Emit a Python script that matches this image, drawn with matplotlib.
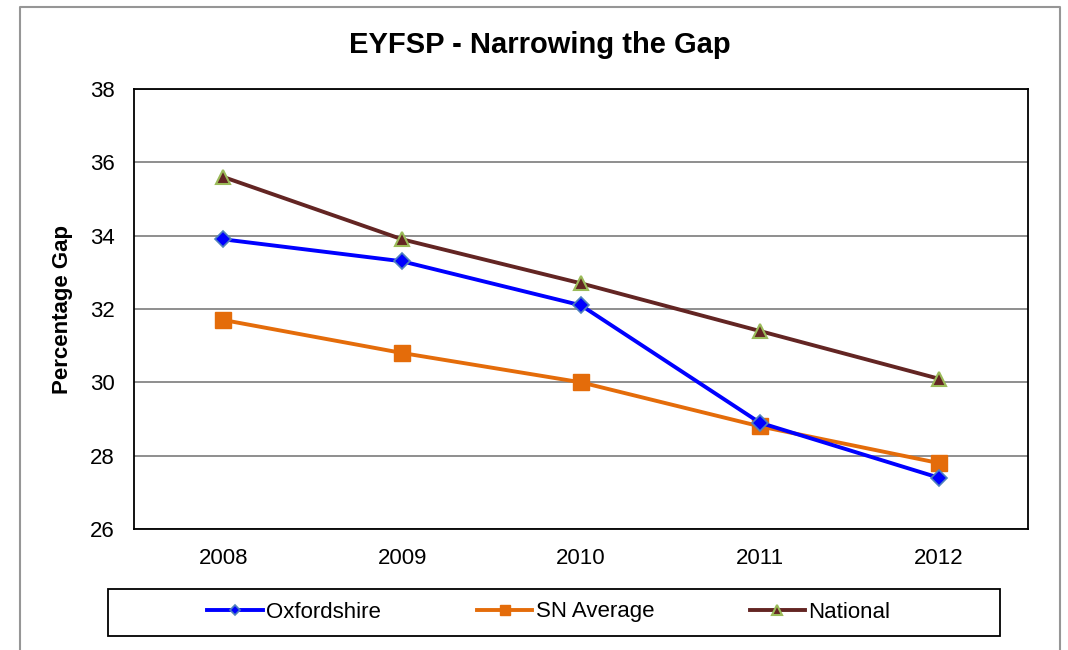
import matplotlib.pyplot as plt
from matplotlib.lines import Line2D
from matplotlib.patches import Rectangle

years = ['2008', '2009', '2010', '2011', '2012']
oxfordshire = [33.9, 33.3, 32.1, 28.9, 27.4]
sn_average = [31.7, 30.8, 30.0, 28.8, 27.8]
national = [35.6, 33.9, 32.7, 31.4, 30.1]

plt.rcParams['font.family'] = ['Liberation Sans', 'DejaVu Sans']

W, H = 1068, 650
fig = plt.figure(figsize=(W / 100, H / 100), dpi=100)
ax = fig.add_axes([134 / W, 1 - 529 / H, (1028 - 134) / W, (529 - 89) / H])

x = range(len(years))
ax.plot(x, oxfordshire, color='#0000FF', lw=2.8, marker='D', ms=8.5,
        mfc='#0000FF', mec='#4F81BD', mew=1.2, label='Oxfordshire', zorder=4)
ax.plot(x, sn_average, color='#E46C0A', lw=2.8, marker='s', ms=11.5,
        mfc='#E46C0A', mec='#E46C0A', label='SN Average', zorder=3)
ax.plot(x, national, color='#632523', lw=2.8, marker='^', ms=10.5,
        mfc='#632523', mec='#9BBB59', mew=1.5, label='National', zorder=5)

ax.set_xlim(-0.5, len(years) - 0.5)
ax.set_ylim(26, 38)
ax.set_yticks(range(26, 39, 2))
ax.set_xticks(list(x))
ax.set_xticklabels(years)
ax.tick_params(labelsize=16, length=0)
ax.tick_params(axis='y', pad=14)
ax.tick_params(axis='x', pad=14)
ax.yaxis.grid(True, color='#868686', lw=1.3)
ax.set_axisbelow(True)
for s in ax.spines.values():
    s.set_color('black')
    s.set_linewidth(1.3)

ax.set_ylabel('Percentage Gap', fontsize=16, fontweight='bold', labelpad=12)
fig.text(540 / W, 1 - 45 / H, 'EYFSP - Narrowing the Gap', ha='center',
         va='center', fontsize=21, fontweight='bold')

# outer chart border (no bottom edge visible)
fig.add_artist(Line2D([20 / W, 20 / W, 1060 / W, 1060 / W],
                      [0, 1 - 6.5 / H, 1 - 6.5 / H, 0],
                      transform=fig.transFigure, color='#969696', lw=1.5))

# legend box
fig.add_artist(Rectangle((108 / W, 1 - 636 / H), (1000 - 108) / W, (636 - 589) / H,
                         transform=fig.transFigure, fill=False,
                         edgecolor='black', lw=1.3))
fig.legend(loc='center', bbox_to_anchor=(549 / W, 1 - 612 / H), ncol=3,
           frameon=False, fontsize=16, handlelength=2.5, handletextpad=0.15,
           columnspacing=4.3, markerscale=0.65)

fig.savefig('out.png', dpi=100)
